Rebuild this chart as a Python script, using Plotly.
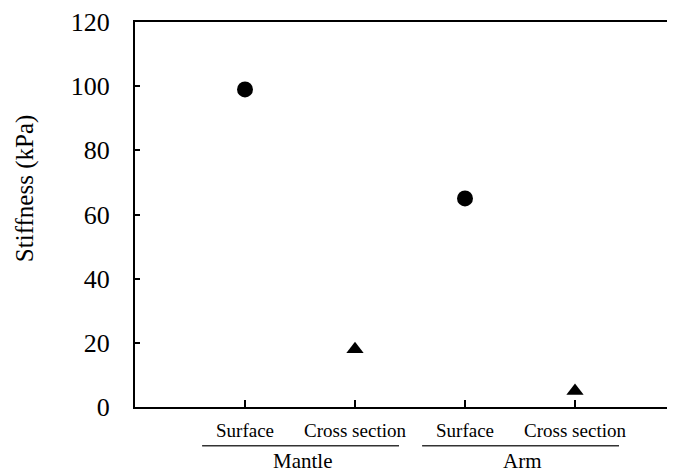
import plotly.graph_objects as go

categories = ["Surface", "Cross section", "Surface", "Cross section"]
groups = ["Mantle", "Arm"]
surface_values = [99, 65]
cross_values = [18, 5]
y_ticks = [0, 20, 40, 60, 80, 100, 120]

FONT = "Liberation Serif"
cat_pos = list(range(len(categories)))
surf_x = [cat_pos[0], cat_pos[2]]
cross_x = [cat_pos[1], cat_pos[3]]

fig = go.Figure()
fig.add_trace(go.Scatter(x=surf_x, y=surface_values, mode="markers",
                         marker=dict(symbol="circle", size=16, color="black"),
                         showlegend=False))
fig.add_trace(go.Scatter(x=cross_x, y=cross_values, mode="markers",
                         marker=dict(symbol="triangle-up", size=15, color="black"),
                         showlegend=False))

# page has an 8px body margin; lay the figure out in screen pixels minus that
OFF = 8
W, H = 675 - OFF, 474 - OFF
ml, mr, mt = 135 - OFF, 0, 20 - OFF
bottom = 407 - OFF
mb = H - bottom
pw = W - ml - mr
ph = bottom - mt


def py(screen_y):
    return (bottom - (screen_y - OFF)) / ph


def px(screen_x):
    return ((screen_x - OFF) - ml) / pw


fig.update_layout(
    width=W, height=H,
    margin=dict(l=ml, r=mr, t=mt, b=mb),
    plot_bgcolor="white", paper_bgcolor="white",
    font=dict(family=FONT, color="black"),
    xaxis=dict(range=[-1, -1 + pw / 110], tickvals=cat_pos, ticktext=categories,
               ticks="inside", ticklen=7, tickwidth=1.5, tickcolor="black",
               showline=True, linecolor="black", linewidth=2, mirror=True,
               showgrid=False, zeroline=False,
               tickfont=dict(family=FONT, size=19, color="black"),
               ticklabelstandoff=5),
    yaxis=dict(range=[0, 120], tickvals=y_ticks,
               ticks="inside", ticklen=5, tickwidth=1.5, tickcolor="black",
               showline=True, linecolor="black", linewidth=2,
               showgrid=False, zeroline=False,
               tickfont=dict(family=FONT, size=26, color="black"),
               ticklabelstandoff=18, ticklabeloverflow="allow"),
)

# y-axis title
fig.add_annotation(text="Stiffness (kPa)", textangle=-90, showarrow=False,
                   xref="paper", yref="paper", x=px(25), y=py(188),
                   xanchor="center", yanchor="middle",
                   font=dict(family=FONT, size=25, color="black"))

# group labels and underlines
for gi, g in enumerate(groups):
    first = cat_pos[2 * gi]
    last = cat_pos[2 * gi + 1]
    center = (first + last) / 2
    fig.add_annotation(text=g, showarrow=False, xref="x", yref="paper",
                       x=center + 0.02, y=py(474),
                       xanchor="center", yanchor="bottom", borderpad=0,
                       font=dict(family=FONT, size=21, color="black"))
    fig.add_shape(type="line", xref="x", yref="paper",
                  x0=first - 0.39, x1=last + 0.4,
                  y0=py(446), y1=py(446),
                  line=dict(color="#333333", width=1.5))

fig.write_html("out.html")
